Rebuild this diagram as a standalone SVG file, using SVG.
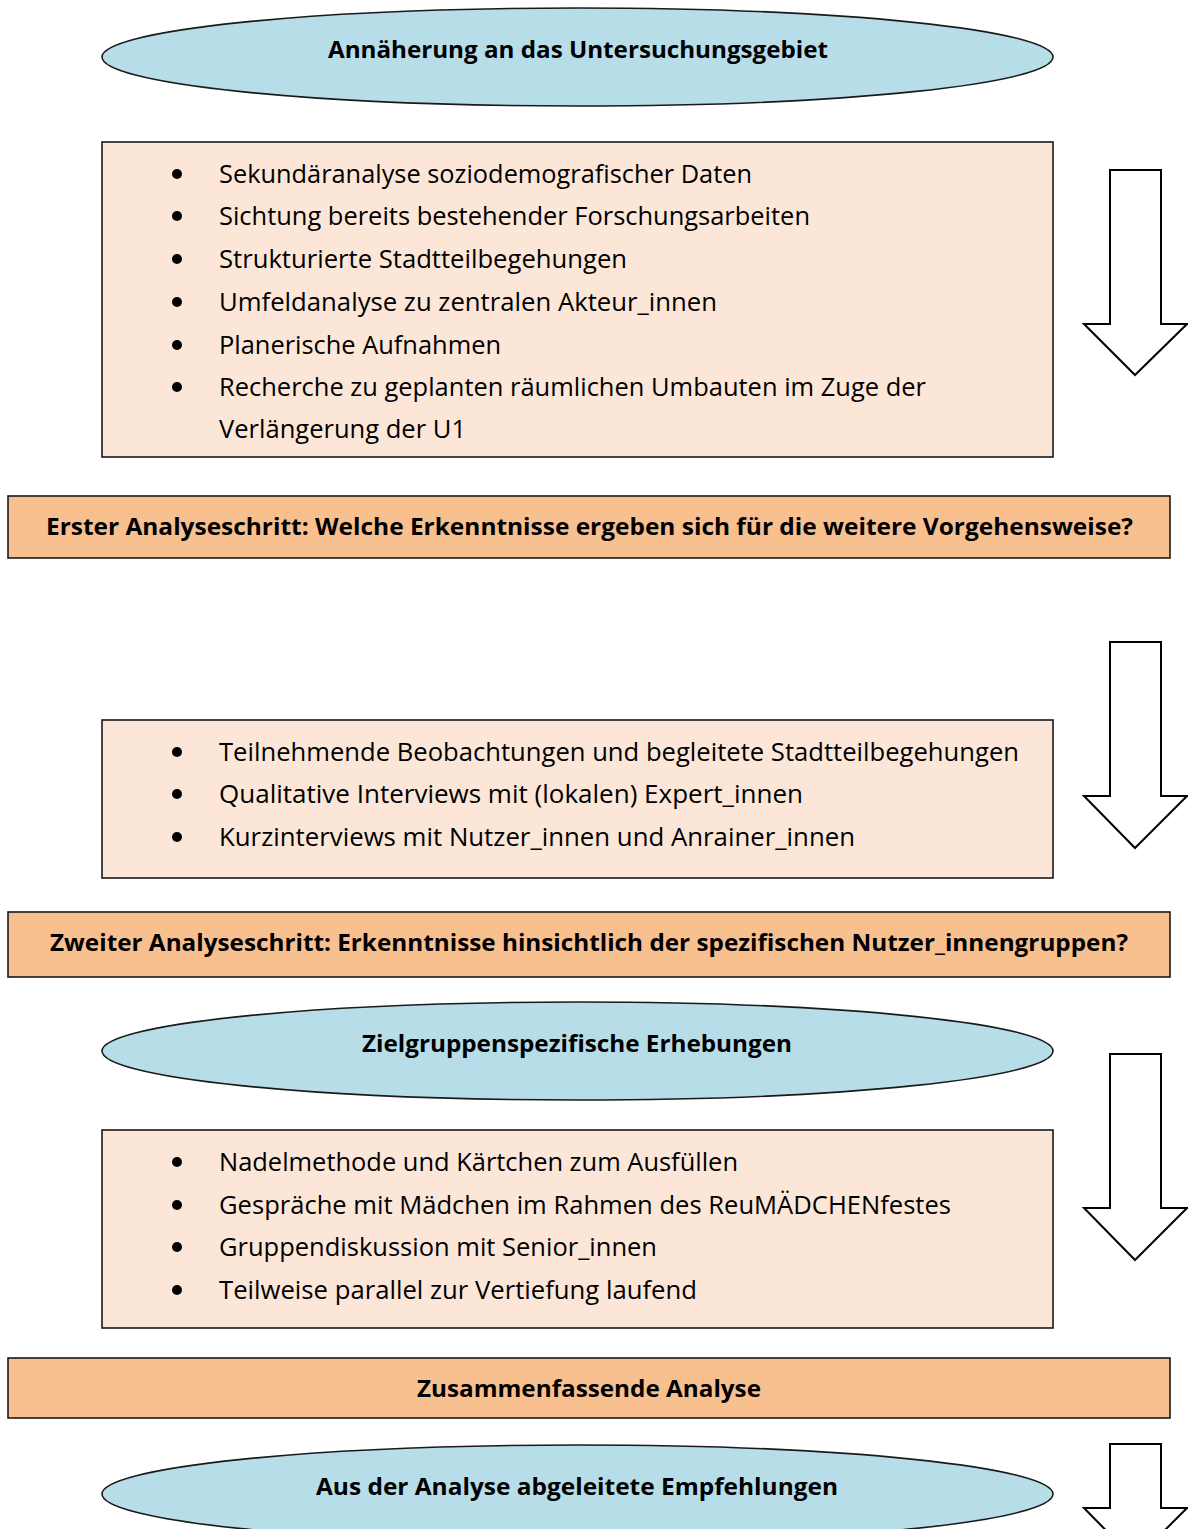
<svg xmlns="http://www.w3.org/2000/svg" width="1188" height="1529" viewBox="0 0 1188 1529">
<style>
.ell{fill:#B7DDE8;stroke:#1a1a1a;stroke-width:1.6}
.box{fill:#FCE6D7;stroke:#1a1a1a;stroke-width:1.6}
.bar{fill:#F8BF8F;stroke:#1a1a1a;stroke-width:1.6}
.arr{fill:#fff;stroke:#000;stroke-width:2;stroke-linejoin:miter}
.t{font-family:"Open Sans","Noto Sans","Liberation Sans",sans-serif;font-weight:bold;font-size:24px;fill:#000;text-anchor:middle}
.b{font-family:"Open Sans","Noto Sans","Liberation Sans",sans-serif;font-size:25px;fill:#000}
.dot{fill:#000}
</style>
<rect width="1188" height="1529" fill="#fff"/>
<g id="connectors">
<polygon class="arr" points="1110,170 1161,170 1161,324 1187,324 1135,375 1084,324 1110,324"/>
<polygon class="arr" points="1110,642 1161,642 1161,796 1187,796 1135,848 1084,796 1110,796"/>
<polygon class="arr" points="1110,1054 1161,1054 1161,1208 1187,1208 1135,1260 1084,1208 1110,1208"/>
<polygon class="arr" points="1110,1444 1161,1444 1161,1508 1187,1508 1135,1560 1084,1508 1110,1508"/>
</g>
<g id="n1">
<ellipse class="ell" cx="577.5" cy="57" rx="475.5" ry="49"/>
<text class="t" x="578" y="58" textLength="500" lengthAdjust="spacingAndGlyphs">Annäherung an das Untersuchungsgebiet</text>
</g>
<g id="n2">
<rect class="box" x="102" y="142" width="951" height="315"/>
<circle class="dot" cx="177" cy="174" r="5"/><text class="b" x="219" y="183" textLength="533" lengthAdjust="spacingAndGlyphs">Sekundäranalyse soziodemografischer Daten</text>
<circle class="dot" cx="177" cy="216" r="5"/><text class="b" x="219" y="225" textLength="591" lengthAdjust="spacingAndGlyphs">Sichtung bereits bestehender Forschungsarbeiten</text>
<circle class="dot" cx="177" cy="259" r="5"/><text class="b" x="219" y="268" textLength="408" lengthAdjust="spacingAndGlyphs">Strukturierte Stadtteilbegehungen</text>
<circle class="dot" cx="177" cy="302" r="5"/><text class="b" x="219" y="311" textLength="498" lengthAdjust="spacingAndGlyphs">Umfeldanalyse zu zentralen Akteur_innen</text>
<circle class="dot" cx="177" cy="345" r="5"/><text class="b" x="219" y="354" textLength="282" lengthAdjust="spacingAndGlyphs">Planerische Aufnahmen</text>
<circle class="dot" cx="177" cy="387" r="5"/><text class="b" x="219" y="396" textLength="707" lengthAdjust="spacingAndGlyphs">Recherche zu geplanten räumlichen Umbauten im Zuge der</text>
<text class="b" x="219" y="438" textLength="247" lengthAdjust="spacingAndGlyphs">Verlängerung der U1</text>
</g>
<g id="n3">
<rect class="bar" x="8" y="496" width="1162" height="62"/>
<text class="t" x="589.5" y="535" textLength="1087" lengthAdjust="spacingAndGlyphs">Erster Analyseschritt: Welche Erkenntnisse ergeben sich für die weitere Vorgehensweise?</text>
</g>
<g id="n4">
<rect class="box" x="102" y="720" width="951" height="158"/>
<circle class="dot" cx="177" cy="752" r="5"/><text class="b" x="219" y="761" textLength="800" lengthAdjust="spacingAndGlyphs">Teilnehmende Beobachtungen und begleitete Stadtteilbegehungen</text>
<circle class="dot" cx="177" cy="794" r="5"/><text class="b" x="219" y="803" textLength="584" lengthAdjust="spacingAndGlyphs">Qualitative Interviews mit (lokalen) Expert_innen</text>
<circle class="dot" cx="177" cy="837" r="5"/><text class="b" x="219" y="846" textLength="636" lengthAdjust="spacingAndGlyphs">Kurzinterviews mit Nutzer_innen und Anrainer_innen</text>
</g>
<g id="n5">
<rect class="bar" x="8" y="912" width="1162" height="65"/>
<text class="t" x="589" y="951" textLength="1078" lengthAdjust="spacingAndGlyphs">Zweiter Analyseschritt: Erkenntnisse hinsichtlich der spezifischen Nutzer_innengruppen?</text>
</g>
<g id="n6">
<ellipse class="ell" cx="577.5" cy="1051" rx="475.5" ry="49"/>
<text class="t" x="577" y="1052" textLength="430" lengthAdjust="spacingAndGlyphs">Zielgruppenspezifische Erhebungen</text>
</g>
<g id="n7">
<rect class="box" x="102" y="1130" width="951" height="198"/>
<circle class="dot" cx="177" cy="1162" r="5"/><text class="b" x="219" y="1171" textLength="519" lengthAdjust="spacingAndGlyphs">Nadelmethode und Kärtchen zum Ausfüllen</text>
<circle class="dot" cx="177" cy="1205" r="5"/><text class="b" x="219" y="1214" textLength="732" lengthAdjust="spacingAndGlyphs">Gespräche mit Mädchen im Rahmen des ReuMÄDCHENfestes</text>
<circle class="dot" cx="177" cy="1247" r="5"/><text class="b" x="219" y="1256" textLength="438" lengthAdjust="spacingAndGlyphs">Gruppendiskussion mit Senior_innen</text>
<circle class="dot" cx="177" cy="1290" r="5"/><text class="b" x="219" y="1299" textLength="478" lengthAdjust="spacingAndGlyphs">Teilweise parallel zur Vertiefung laufend</text>
</g>
<g id="n8">
<rect class="bar" x="8" y="1358" width="1162" height="60"/>
<text class="t" x="589" y="1397" textLength="344" lengthAdjust="spacingAndGlyphs">Zusammenfassende Analyse</text>
</g>
<g id="n9">
<ellipse class="ell" cx="577.5" cy="1494" rx="475.5" ry="49"/>
<text class="t" x="577" y="1495" textLength="522" lengthAdjust="spacingAndGlyphs">Aus der Analyse abgeleitete Empfehlungen</text>
</g>
</svg>
